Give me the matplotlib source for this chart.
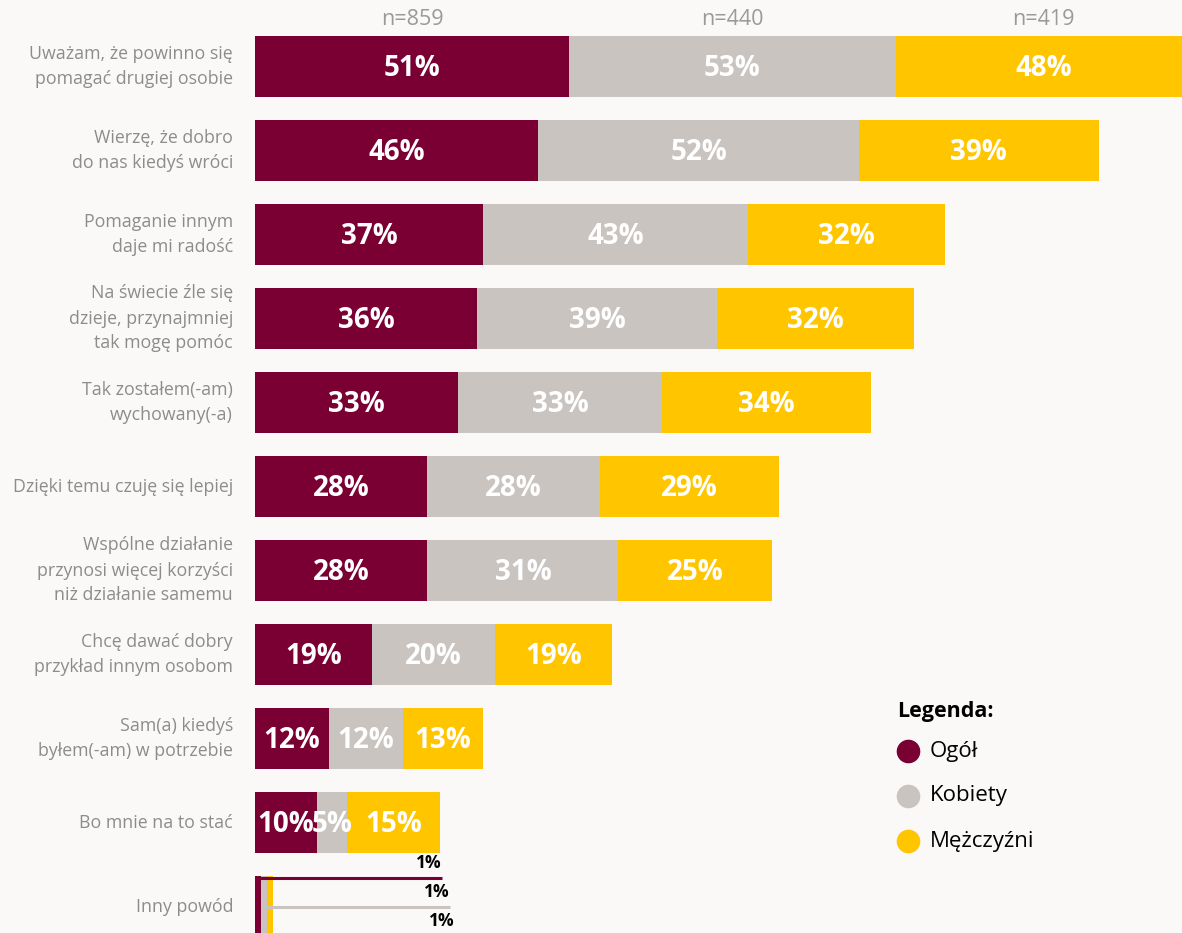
import numpy as np
import matplotlib.pyplot as plt
from matplotlib.lines import Line2D

plt.rcParams['font.family'] = ['Open Sans', 'DejaVu Sans']

BG = "#FAF9F7"
COLORS = {"ogol": "#7A0033", "kobiety": "#C9C4C0", "mezczyzni": "#FFC600"}

reasons = [
    "Uważam, że powinno się\npomagać drugiej osobie",
    "Wierzę, że dobro\ndo nas kiedyś wróci",
    "Pomaganie innym\ndaje mi radość",
    "Na świecie źle się\ndzieje, przynajmniej\ntak mogę pomóc",
    "Tak zostałem(-am)\nwychowany(-a)",
    "Dzięki temu czuję się lepiej",
    "Wspólne działanie\nprzynosi więcej korzyści\nniż działanie samemu",
    "Chcę dawać dobry\nprzykład innym osobom",
    "Sam(a) kiedyś\nbyłem(-am) w potrzebie",
    "Bo mnie na to stać",
    "Inny powód",
]
ogol      = [51, 46, 37, 36, 33, 28, 28, 19, 12, 10, 1]
kobiety   = [53, 52, 43, 39, 33, 28, 31, 20, 12, 5, 1]
mezczyzni = [48, 39, 32, 32, 34, 29, 25, 19, 13, 15, 1]
sample_sizes = ["n=859", "n=440", "n=419"]
legend_labels = ["Ogół", "Kobiety", "Mężczyźni"]

W, H = 1182, 933
fig = plt.figure(figsize=(W / 100, H / 100), dpi=100, facecolor=BG)

# axes spans from the bar baseline to the right edge, full height
x0_px = 255
px_per_pct = 6.16
row0_px, row_step = 66.5, 84
ax = fig.add_axes([x0_px / W, 0, 1 - x0_px / W, 1])
ax.set_facecolor(BG)
ax.set_xlim(0, (W - x0_px) / px_per_pct)
ax.set_ylim((H - row0_px) / row_step, -row0_px / row_step)
ax.axis("off")

y = np.arange(len(reasons))
bar_h = 0.73
series = [ogol, kobiety, mezczyzni]
keys = ["ogol", "kobiety", "mezczyzni"]

left = np.zeros(len(reasons))
lefts = []
for vals, key in zip(series, keys):
    vals = np.array(vals, dtype=float)
    ax.barh(y, vals, left=left, height=bar_h, color=COLORS[key],
            linewidth=0, zorder=2)
    lefts.append(left.copy())
    left = left + vals

# percentage labels inside segments (all rows except the last one)
for i in range(len(reasons) - 1):
    for s, vals in enumerate(series):
        cx = lefts[s][i] + vals[i] / 2
        ax.text(cx, y[i] + 0.02, f"{vals[i]}%", ha="center", va="center",
                color="white", fontsize=20, fontweight="bold", zorder=4)

# leader lines for the tiny "Inny powód" segments
last = len(reasons) - 1
line_ends = [30.4, 31.7, 32.5]
line_y = [last - bar_h / 2 + 0.02, last, last + bar_h / 2 - 0.02]
for s, (vals, key) in enumerate(zip(series, keys)):
    x_start = lefts[s + 1][last] if s == 1 else lefts[s][last]
    ax.plot([x_start, line_ends[s]], [line_y[s], line_y[s]],
            color=COLORS[key], lw=2.2, solid_capstyle="butt",
            clip_on=False, zorder=3)
    ax.text(line_ends[s] - 0.1, line_y[s] - 0.06, f"{vals[last]}%",
            ha="right", va="bottom", color="black", fontsize=12.5,
            fontweight="bold")

# sample sizes above the first row segments
for s, vals in enumerate(series):
    cx = lefts[s][0] + vals[0] / 2
    ax.text(cx, -bar_h / 2 - 0.07, sample_sizes[s], ha="center",
            va="bottom", color="#9A9A9A", fontsize=15.5)

# category labels
for i, label in enumerate(reasons):
    fig.text(233 / W, 1 - (row0_px + row_step * i) / H, label,
             ha="right", va="center", color="#8C8C8C", fontsize=12.8,
             linespacing=1.5)

# legend
fig.text(897 / W, 1 - 711 / H, "Legenda:", ha="left", va="center",
         fontsize=15.5, fontweight="bold", color="black")
for k, (lab, key) in enumerate(zip(legend_labels, keys)):
    yy = 1 - (751 + 45 * k) / H
    fig.add_artist(Line2D([908 / W], [yy], marker="o", markersize=16,
                          color=COLORS[key], linestyle="none",
                          transform=fig.transFigure))
    fig.text(930 / W, yy, lab, ha="left", va="center", fontsize=16,
             color="black")

fig.savefig("out.png", dpi=100, facecolor=BG)
